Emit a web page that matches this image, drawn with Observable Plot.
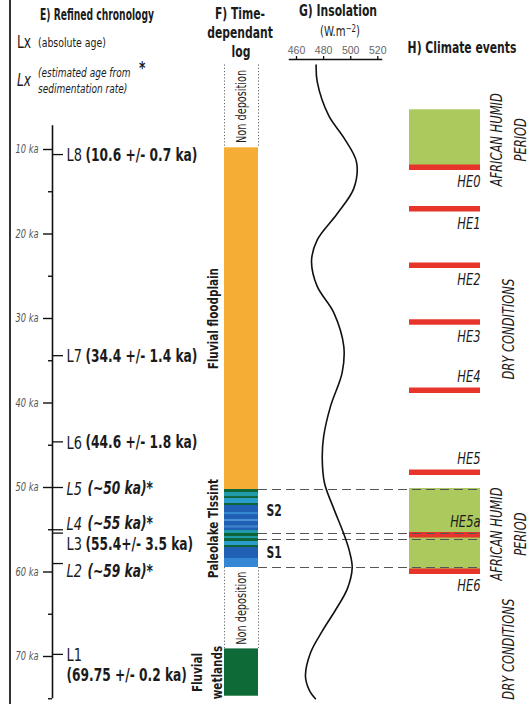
<!DOCTYPE html>
<html>
<head>
<meta charset="utf-8">
<script src="https://cdn.jsdelivr.net/npm/d3@7"></script>
<script src="https://cdn.jsdelivr.net/npm/@observablehq/plot@0.6"></script>
<style>
  html, body { margin: 0; padding: 0; background: #fff; }
  #chart { position: relative; width: 529px; height: 704px; overflow: hidden; background: #fff;
    font-family: "Liberation Sans Narrow", "DejaVu Sans Condensed", "Roboto Condensed", sans-serif; color: #1b1b1b; }
  .t { position: absolute; white-space: nowrap; line-height: 1; transform: translate(-50%, -50%) scaleX(0.8); }
  .l { position: absolute; white-space: nowrap; line-height: 1; transform-origin: left center; transform: translateY(-50%) scaleX(0.8); }
  .b { font-weight: bold; font-size: 15px; }
  .border { position: absolute; left: 9px; top: 0; width: 2px; height: 704px; background: #333; }
  sup { font-size: 0.7em; vertical-align: 0.5em; }
</style>
</head>
<body>
<div id="chart">
  <div class="border"></div>
  <div class="t b" style="left:97px;top:15px;transform:translate(-50%,-50%) scaleX(0.68)">E) Refined chronology</div>
  <div class="l" style="left:17px;top:42px;font-size:17px">Lx</div>
  <div class="l" style="left:38px;top:42px;font-size:13px">(absolute age)</div>
  <div class="l" style="left:17px;top:80px;font-size:17px;font-style:italic">Lx</div>
  <div class="l" style="left:38px;top:73px;font-size:12.5px;font-style:italic">(estimated age from</div>
  <div class="l" style="left:38px;top:89px;font-size:12.5px;font-style:italic">sedimentation rate)</div>
  <div class="l" style="left:139px;top:68px;font-size:17px;font-weight:bold">*</div>
  <div class="t b" style="left:240px;top:14px">F) Time-</div>
  <div class="t b" style="left:240px;top:33px">dependant</div>
  <div class="t b" style="left:241px;top:52px">log</div>
  <div class="t b" style="left:338px;top:11px">G) Insolation</div>
  <div class="t" style="left:340px;top:31px;font-size:14px">(W.m<sup>−2</sup>)</div>
  <div class="t b" style="left:462px;top:48px">H) Climate events</div>
</div>
<script>
// ---------- data ----------
// E) chronology axis
const majorTicks = [10, 20, 30, 40, 50, 60, 70];
const minorTicks = [15, 25, 35, 45, 55, 65, 75];
const axisExtent = [7.2, 75];
const lumCodes = ["L8", "L7", "L6", "L5", "L4", "L3", "L2", "L1"];
const lumAges = [10.6, 34.4, 44.6, 50, 55, 55.4, 59, 69.75];
const lumDetails = ["(10.6 +/- 0.7 ka)", "(34.4 +/- 1.4 ka)", "(44.6 +/- 1.8 ka)", "(~50 ka)*", "(~55 ka)*", "(55.4+/- 3.5 ka)", "(~59 ka)*", "(69.75 +/- 0.2 ka)"];
const lumEstimated = [false, false, false, true, true, false, true, false];

// F) time-dependant log
const unitNames = ["Non deposition", "Fluvial floodplain", "Paleolake Tlssint", "Non deposition", "Fluvial\nwetlands"];
const unitTop = [0, 9.8, 50.24, 59.47, 69.1];
const unitBase = [9.8, 50.24, 59.47, 69.1, 74.7];
const unitFacies = ["gap", "floodplain", "lake", "gap", "wetland"];
const lakeTop = [50.24, 50.59, 51.07, 51.30, 51.89, 52.13, 52.96, 53.20, 53.80, 54.00, 54.60, 54.75, 55.09, 55.44, 55.80, 56.04, 56.39, 56.86, 57.10, 58.40];
const lakeBase = [50.59, 51.07, 51.30, 51.89, 52.13, 52.96, 53.20, 53.80, 54.00, 54.60, 54.75, 55.09, 55.44, 55.80, 56.04, 56.39, 56.86, 57.10, 58.40, 59.47];
const lakeFacies = ["green", "teal", "green", "cyan", "green", "blue", "light", "blue", "light", "blue", "light", "blue", "teal", "green", "teal", "green", "cyan", "green", "blue", "light"];
const lakeUnits = ["S2", "S1"];
const lakeUnitTop = [50.24, 56.15];
const lakeUnitBase = [55.44, 59.47];

// G) insolation
const insolKa = [0, 2, 6, 8.6, 11.5, 14.6, 17.6, 20.7, 23.2, 26.2, 29.3, 33.3, 36.4, 40.4, 43.9, 46.5, 49.5, 52.5, 55.4, 57.5, 59.5, 62, 64.5, 67, 69.5, 72.3, 74, 75];
const insolW = [474.5, 475.3, 483.8, 494.9, 504.3, 502.3, 490, 475.3, 471.1, 475.3, 487.5, 494.9, 493.7, 485.1, 480.1, 479, 480.7, 487.5, 494.7, 499, 501.1, 497.5, 488.8, 479, 470.5, 466.6, 469.5, 474];
const insolTicks = [460, 480, 500, 520];

// H) climate events
const heNames = ["HE0", "HE1", "HE2", "HE3", "HE4", "HE5", "HE5a", "HE6"];
const heKa = [12.1, 17.0, 23.7, 30.4, 38.5, 48.2, 55.6, 59.9];
const periodNames = ["AFRICAN HUMID\nPERIOD", "DRY CONDITIONS", "AFRICAN HUMID\nPERIOD", "DRY CONDITIONS"];
const periodTop = [5.3, 12.4, 50.12, 60.2];
const periodBase = [12.4, 50.12, 60.2, 75];
const periodType = ["humid", "dry", "humid", "dry"];

// ---------- tables ----------
const lum = lumCodes.map((code, i) => ({code, age: lumAges[i], detail: lumDetails[i], est: lumEstimated[i]}));
const units = unitNames.map((name, i) => ({name, top: unitTop[i], base: unitBase[i], facies: unitFacies[i]}));
const strata = lakeTop.map((t, i) => ({top: t, base: lakeBase[i], facies: lakeFacies[i]}));
const sUnits = lakeUnits.map((name, i) => ({name, top: lakeUnitTop[i], base: lakeUnitBase[i]}));
const corr = [...new Set(lakeUnitTop.concat(lakeUnitBase))].map(ka => ({ka}));
const insol = insolKa.map((ka, i) => ({ka, w: insolW[i]}));
const events = heNames.map((name, i) => ({name, ka: heKa[i]}));
const periods = periodNames.map((name, i) => ({name, top: periodTop[i], base: periodBase[i], type: periodType[i]}));

// ---------- layout ----------
const W = 529, H = 704;
const narrow = `"Liberation Sans Narrow", "DejaVu Sans Condensed", "Roboto Condensed", sans-serif`;
const svgStyle = `position:absolute;left:0;top:0;background:transparent;overflow:visible;font-family:${narrow};`;
const yOpt = () => ({domain: [0, 75], range: [64.5, 698.25], axis: null, label: null});
const frame = (left, right, top = 0) => ({width: W, height: H, marginLeft: left, marginRight: W - right, marginTop: top, marginBottom: 0, style: svgStyle});
const mid = d => (d.top + d.base) / 2;
const ink = "#1b1b1b";
const chart = document.getElementById("chart");

// narrow the glyphs along the reading direction to mimic a condensed face
const isNum = v => v != null && /^-?\d*\.?\d+(e[-+]?\d+)?$/i.test(v.trim());
function condense(svg, s) {
  svg.querySelectorAll("text").forEach(t => {
    const x = t.getAttribute("x"), y = t.getAttribute("y");
    const tr = t.getAttribute("transform") || "";
    let tx = 0, ty = 0;
    if (isNum(x)) { tx = +x; t.removeAttribute("x"); }
    if (isNum(y)) { ty = +y; t.removeAttribute("y"); }
    t.setAttribute("transform", `${tr} translate(${tx},${ty}) scale(${s},1)`.trim());
  });
  return svg;
}

// H) climate events panel (x: 409 → 480)
const periodDy = [0, 0, 3, 13];
const heAbove = new Set(["HE4", "HE5", "HE5a"]);
const panelH = Plot.plot({
  ...frame(409, 480),
  x: {domain: [0, 1], axis: null},
  y: yOpt(),
  marks: [
    Plot.rect(periods.filter(d => d.type === "humid"), {x1: 0, x2: 1, y1: "top", y2: "base", fill: "#abc95d"}),
    Plot.ruleY(events, {y: "ka", x1: 0, x2: 1, stroke: "#e8352c", strokeWidth: 5.5}),
    Plot.text(events.filter(d => !heAbove.has(d.name)), {x: 1, y: "ka", text: "name", textAnchor: "end", dy: 15, fontStyle: "italic", fontSize: 16, fill: ink}),
    Plot.text(events.filter(d => heAbove.has(d.name)), {x: 1, y: "ka", text: "name", textAnchor: "end", dy: -13, fontStyle: "italic", fontSize: 16, fill: ink}),
    ...periods.map((p, i) => Plot.text([p], {x: 1, y: mid, dx: 26, dy: periodDy[i], text: "name", rotate: -90, lineHeight: 1.5, fontStyle: "italic", fontSize: 16, fill: ink}))
  ]
});
chart.appendChild(condense(panelH, 0.8));

// correlation dashed lines (258 → 480)
const panelCorr = Plot.plot({
  ...frame(258, 480),
  x: {domain: [0, 1], axis: null},
  y: yOpt(),
  marks: [Plot.ruleY(corr, {y: "ka", stroke: "#555", strokeWidth: 1.1, strokeDasharray: "9,5"})]
});
chart.appendChild(panelCorr);

// G) insolation panel
const panelG = Plot.plot({
  ...frame(289, 381, 59),
  x: {domain: [460, 520], range: [296, 377.3], label: null},
  y: yOpt(),
  marks: [
    Plot.frame({anchor: "top", stroke: "#111", strokeWidth: 1.5}),
    Plot.axisX({anchor: "top", ticks: insolTicks, tickSize: 4, tickPadding: 2, stroke: "#111", strokeWidth: 1.3, fill: "#666", fontSize: 10.5, fontFamily: `"Liberation Sans", "Open Sans", sans-serif`, label: null}),
    Plot.line(insol, {x: "w", y: "ka", curve: "catmull-rom", stroke: "#111", strokeWidth: 1.6})
  ]
});
chart.appendChild(panelG);

// F) log panel (x: 224 → 258)
const faciesDomain = ["floodplain", "wetland", "green", "teal", "cyan", "blue", "light"];
const faciesRange = ["#f6ad35", "#0e6a37", "#0c6438", "#1e9aa8", "#2a9dcc", "#1f60b4", "#3387d3"];
const gaps = units.filter(d => d.facies === "gap");
const panelF = Plot.plot({
  ...frame(224, 258),
  x: {domain: [0, 1], axis: null},
  y: yOpt(),
  color: {domain: faciesDomain, range: faciesRange},
  marks: [
    Plot.rect(units.filter(d => d.facies === "floodplain" || d.facies === "wetland"), {x1: 0, x2: 1, y1: "top", y2: "base", fill: "facies"}),
    Plot.rect(strata, {x1: 0, x2: 1, y1: "top", y2: "base", fill: "facies"}),
    Plot.ruleX(gaps, {x: 0, y1: "top", y2: "base", stroke: "#666", strokeDasharray: "1.2,2"}),
    Plot.ruleX(gaps, {x: 1, y1: "top", y2: "base", stroke: "#666", strokeDasharray: "1.2,2"}),
    Plot.text(gaps, {x: 0.5, y: mid, text: "name", rotate: -90, fontSize: 13.5, fill: ink}),
    Plot.text(units.filter(d => d.facies === "floodplain" || d.facies === "lake"), {x: 0, dx: -11, y: mid, text: "name", rotate: -90, fontWeight: "bold", fontSize: 14.5, fill: ink}),
    Plot.text(units.filter(d => d.facies === "wetland"), {x: 0, dx: -19, y: mid, text: "name", rotate: -90, lineHeight: 1.4, fontWeight: "bold", fontSize: 14.5, fill: ink}),
    Plot.text(sUnits, {x: 1, dx: 8, y: mid, text: "name", textAnchor: "start", fontWeight: "bold", fontSize: 15, fill: ink})
  ]
});
chart.appendChild(condense(panelF, 0.8));

// E) chronology panel (axis at x = 52, luminescence ticks to x = 63)
const lumDy = {L5: 1.5, L4: -6, L3: 11, L2: 8};
const lumMarks = lum.flatMap(d => {
  const dy = lumDy[d.code] ?? 1;
  const style = d.est ? "italic" : "normal";
  return [
    Plot.text([d], {x: 1, y: "age", text: "code", dx: 3, dy, textAnchor: "start", fontSize: 18, fontStyle: style, fill: ink}),
    d.code === "L1"
      ? Plot.text([d], {x: 1, y: "age", text: "detail", dx: 3, dy: 21, textAnchor: "start", fontSize: 17, fontWeight: "bold", fill: ink})
      : Plot.text([d], {x: 1, y: "age", text: "detail", dx: d.est ? 24 : 22, dy, textAnchor: "start", fontSize: 17, fontWeight: "bold", fontStyle: style, fill: ink})
  ];
});
const panelE = Plot.plot({
  ...frame(52, 63),
  x: {domain: [0, 1], axis: null},
  y: yOpt(),
  marks: [
    Plot.ruleX([0], {y1: axisExtent[0], y2: axisExtent[1], stroke: "#111", strokeWidth: 1.6}),
    Plot.axisY(majorTicks, {anchor: "left", tickSize: 9, tickPadding: 5, tickFormat: d => `${d} ka`, stroke: "#111", strokeWidth: 1.4, fill: "#555", fontSize: 11.5, fontStyle: "italic", label: null}),
    Plot.axisY(minorTicks, {anchor: "left", tickSize: 4, tickFormat: () => "", stroke: "#111", strokeWidth: 1.4, label: null}),
    Plot.ruleY(lum, {y: "age", x1: 0, x2: 1, stroke: "#111", strokeWidth: 1.3}),
    ...lumMarks
  ]
});
chart.appendChild(condense(panelE, 0.8));
</script>
</body>
</html>
